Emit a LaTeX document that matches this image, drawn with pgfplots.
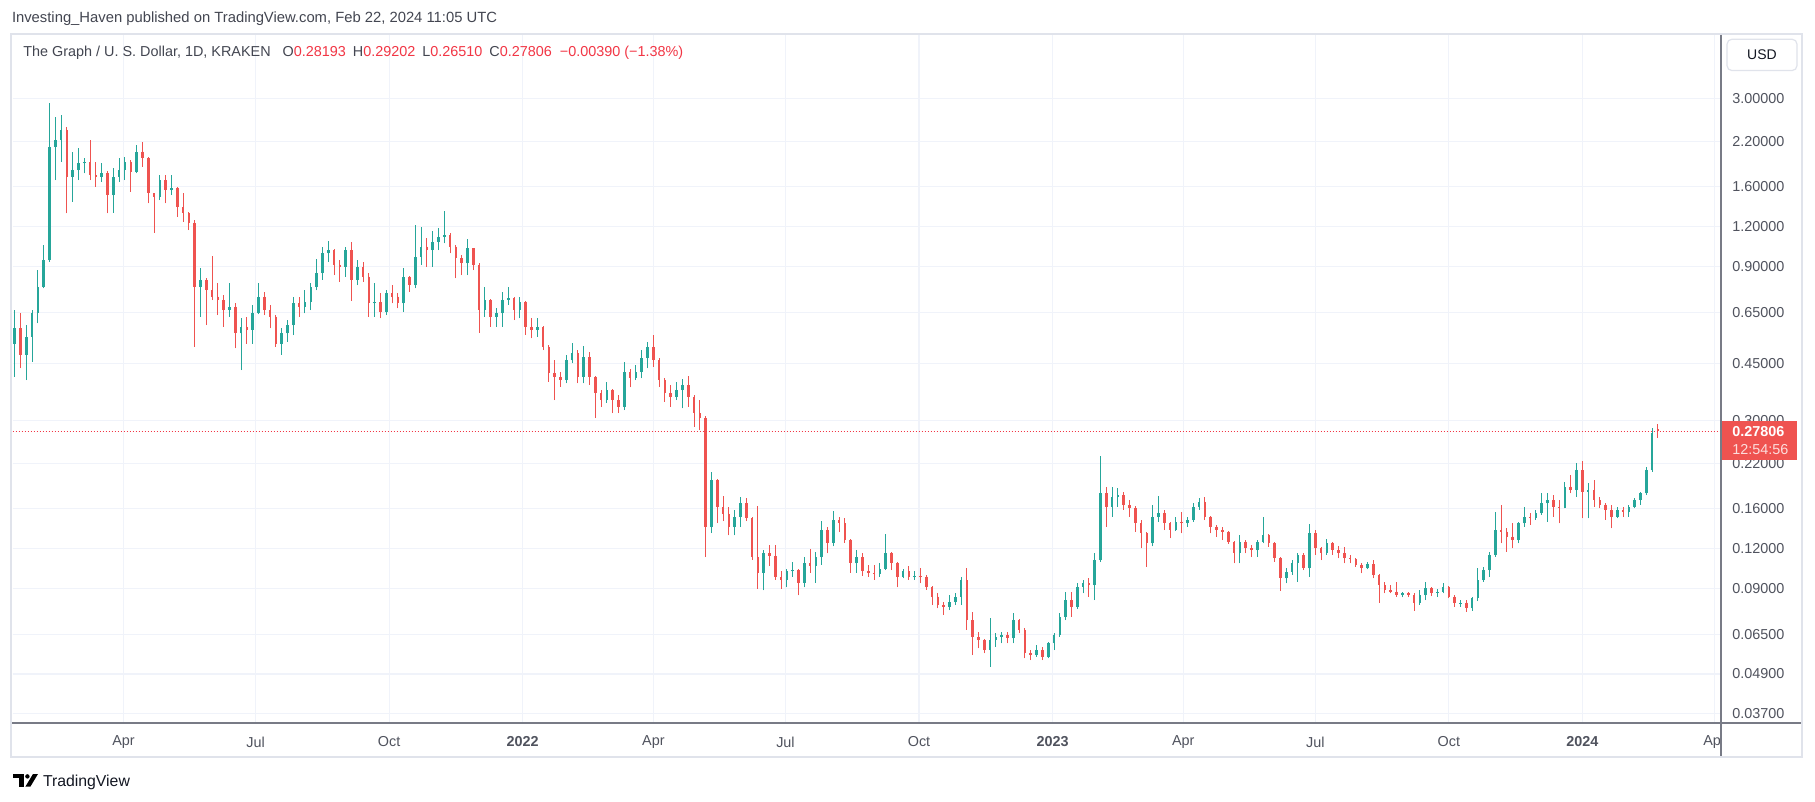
\documentclass[border=0pt]{standalone}
\usepackage{pgfplots}
\pgfplotsset{compat=1.18}
\usepackage{pgfplotstable}
\usepackage{fontspec}
\setmainfont{Liberation Sans}
\definecolor{tvup}{HTML}{26A69A}
\definecolor{tvdn}{HTML}{EF5350}
\definecolor{tvgrid}{HTML}{F0F3FA}
\definecolor{tvaxis}{HTML}{787B86}
\definecolor{tvtext}{HTML}{50535E}
\definecolor{tvdark}{HTML}{131722}
\definecolor{tvhead}{HTML}{434651}
\definecolor{tvframe}{HTML}{E0E3EB}
\definecolor{tvred}{HTML}{F23645}

% GRT/USD, 4-day candles: day (from 2021-01-01), open, high, low, close
\pgfplotstableread{
d o h l c
15 0.520 0.661 0.410 0.579
19 0.579 0.645 0.435 0.479
23 0.479 0.593 0.400 0.546
27 0.546 0.661 0.457 0.645
31 0.645 0.879 0.600 0.780
35 0.780 1.051 0.771 0.944
39 0.944 2.894 0.933 2.123
43 2.123 2.631 1.673 2.227
47 2.227 2.662 1.907 2.392
51 2.392 2.449 1.318 1.713
55 1.713 2.048 1.433 1.797
59 1.797 2.098 1.673 1.885
63 1.885 1.953 1.755 1.907
67 1.907 2.227 1.673 1.734
71 1.734 1.907 1.595 1.713
75 1.713 1.885 1.653 1.755
79 1.755 1.780 1.318 1.503
83 1.503 1.818 1.325 1.713
87 1.713 1.953 1.653 1.797
91 1.797 1.977 1.673 1.907
95 1.907 1.930 1.539 1.776
99 1.776 2.148 1.755 2.048
103 2.048 2.200 1.840 1.953
107 1.953 1.977 1.416 1.521
111 1.521 1.530 1.148 1.485
115 1.485 1.734 1.450 1.673
119 1.673 1.734 1.416 1.557
123 1.557 1.734 1.503 1.576
127 1.576 1.595 1.287 1.383
131 1.383 1.521 1.242 1.318
135 1.318 1.330 1.170 1.227
139 1.227 1.257 0.508 0.780
143 0.780 0.890 0.630 0.818
147 0.818 0.830 0.593 0.762
151 0.762 0.972 0.709 0.727
155 0.727 0.799 0.637 0.709
159 0.709 0.735 0.586 0.661
163 0.661 0.799 0.630 0.677
167 0.677 0.693 0.502 0.559
171 0.559 0.622 0.430 0.586
175 0.586 0.630 0.520 0.573
179 0.573 0.684 0.520 0.645
183 0.645 0.799 0.640 0.727
187 0.727 0.753 0.637 0.661
191 0.661 0.684 0.579 0.630
195 0.630 0.637 0.508 0.520
199 0.520 0.579 0.479 0.559
203 0.559 0.615 0.527 0.593
207 0.593 0.727 0.552 0.693
211 0.693 0.727 0.630 0.677
215 0.677 0.762 0.645 0.700
219 0.700 0.800 0.660 0.780
223 0.780 0.950 0.760 0.860
227 0.860 1.039 0.819 0.991
231 0.991 1.084 0.933 1.014
235 1.014 1.019 0.848 0.911
239 0.911 0.944 0.809 0.900
243 0.900 1.039 0.838 1.014
247 1.014 1.077 0.706 0.819
251 0.819 0.944 0.790 0.900
255 0.900 0.933 0.809 0.838
259 0.838 0.859 0.630 0.693
263 0.693 0.799 0.630 0.700
267 0.700 0.744 0.622 0.653
271 0.653 0.762 0.637 0.744
275 0.744 0.790 0.693 0.727
279 0.727 0.744 0.669 0.693
283 0.693 0.890 0.653 0.838
287 0.838 0.842 0.753 0.790
291 0.790 1.213 0.771 0.967
295 0.967 1.198 0.911 1.039
299 1.039 1.103 0.900 1.014
303 1.014 1.165 0.900 1.077
307 1.077 1.184 1.014 1.116
311 1.116 1.340 1.064 1.129
315 1.129 1.143 0.991 1.039
319 1.039 1.050 0.828 0.956
323 0.956 0.979 0.848 0.922
327 0.922 1.097 0.848 1.027
331 1.027 1.030 0.879 0.911
335 0.911 0.922 0.562 0.661
339 0.661 0.780 0.630 0.710
343 0.710 0.715 0.586 0.630
347 0.630 0.669 0.586 0.645
351 0.645 0.753 0.586 0.710
355 0.710 0.780 0.685 0.718
359 0.718 0.727 0.615 0.661
363 0.661 0.727 0.622 0.701
367 0.701 0.705 0.553 0.586
371 0.586 0.622 0.539 0.573
375 0.573 0.622 0.546 0.586
379 0.586 0.590 0.496 0.508
383 0.508 0.514 0.396 0.420
387 0.420 0.462 0.347 0.410
391 0.410 0.425 0.382 0.401
395 0.401 0.479 0.391 0.462
399 0.462 0.521 0.451 0.485
403 0.485 0.496 0.391 0.410
407 0.410 0.511 0.391 0.473
411 0.473 0.490 0.387 0.410
415 0.410 0.412 0.305 0.364
419 0.364 0.373 0.331 0.347
423 0.347 0.396 0.340 0.373
427 0.373 0.375 0.316 0.347
431 0.347 0.360 0.316 0.331
435 0.331 0.457 0.323 0.425
439 0.425 0.432 0.380 0.405
443 0.405 0.446 0.400 0.425
447 0.425 0.496 0.405 0.468
451 0.468 0.527 0.435 0.508
455 0.508 0.552 0.441 0.462
459 0.462 0.468 0.382 0.401
463 0.401 0.405 0.343 0.364
467 0.364 0.386 0.331 0.356
471 0.356 0.396 0.347 0.373
475 0.373 0.403 0.327 0.386
479 0.386 0.412 0.331 0.356
483 0.356 0.360 0.287 0.316
487 0.316 0.347 0.280 0.305
491 0.305 0.310 0.113 0.140
495 0.140 0.208 0.134 0.196
499 0.196 0.198 0.144 0.162
503 0.162 0.175 0.146 0.154
507 0.154 0.162 0.132 0.140
511 0.140 0.158 0.132 0.151
515 0.151 0.174 0.140 0.166
519 0.166 0.172 0.146 0.149
523 0.149 0.151 0.111 0.113
527 0.113 0.163 0.090 0.101
531 0.101 0.119 0.089 0.116
535 0.116 0.123 0.106 0.114
539 0.114 0.123 0.096 0.098
543 0.098 0.102 0.090 0.096
547 0.096 0.104 0.091 0.102
551 0.102 0.109 0.098 0.103
555 0.103 0.104 0.086 0.094
559 0.094 0.113 0.091 0.108
563 0.108 0.120 0.101 0.106
567 0.106 0.117 0.094 0.113
571 0.113 0.146 0.107 0.137
575 0.137 0.140 0.116 0.125
579 0.125 0.157 0.122 0.147
583 0.147 0.151 0.135 0.144
587 0.144 0.149 0.125 0.128
591 0.128 0.129 0.101 0.108
595 0.108 0.119 0.101 0.113
599 0.113 0.116 0.099 0.102
603 0.102 0.107 0.098 0.101
607 0.101 0.107 0.096 0.100
611 0.100 0.108 0.098 0.104
615 0.104 0.133 0.103 0.116
619 0.116 0.117 0.103 0.108
623 0.108 0.109 0.091 0.098
627 0.098 0.104 0.097 0.102
631 0.102 0.106 0.096 0.098
635 0.098 0.102 0.096 0.0987
639 0.0987 0.1042 0.0936 0.0982
643 0.0982 0.0994 0.0893 0.0914
647 0.0914 0.0920 0.0802 0.0851
651 0.0851 0.0872 0.0783 0.0802
655 0.0802 0.0821 0.0747 0.0792
659 0.0792 0.0861 0.0774 0.0821
663 0.0821 0.0872 0.0802 0.0851
667 0.0851 0.0982 0.0802 0.0959
671 0.0959 0.1042 0.0671 0.0720
675 0.0720 0.0765 0.0561 0.0639
679 0.0639 0.0663 0.0588 0.0624
683 0.0624 0.0630 0.0568 0.0581
687 0.0581 0.0729 0.0516 0.0624
691 0.0624 0.0655 0.0595 0.0639
695 0.0639 0.0663 0.0610 0.0647
699 0.0647 0.0663 0.0610 0.0632
703 0.0632 0.0756 0.0610 0.0720
707 0.0720 0.0725 0.0655 0.0671
711 0.0671 0.0680 0.0548 0.0568
715 0.0568 0.0581 0.0541 0.0561
719 0.0561 0.0602 0.0555 0.0581
723 0.0581 0.0595 0.0541 0.0554
727 0.0554 0.0617 0.0548 0.0610
731 0.0610 0.0655 0.0581 0.0647
735 0.0647 0.0756 0.0640 0.0738
739 0.0738 0.0882 0.0720 0.0831
743 0.0831 0.0882 0.0738 0.0792
747 0.0792 0.0936 0.0780 0.0914
751 0.0914 0.0959 0.0872 0.0936
755 0.0936 0.0970 0.0851 0.0925
759 0.0925 0.1160 0.0831 0.1106
763 0.1106 0.2326 0.1090 0.1781
767 0.1781 0.1868 0.1404 0.1619
771 0.1619 0.1868 0.1508 0.1740
775 0.1740 0.1846 0.1619 0.1760
779 0.1760 0.1803 0.1582 0.1639
783 0.1639 0.1699 0.1508 0.1600
787 0.1600 0.1625 0.1354 0.1438
791 0.1438 0.1472 0.1202 0.1338
795 0.1338 0.1350 0.1055 0.1246
799 0.1246 0.1639 0.1220 0.1508
803 0.1508 0.1748 0.1455 0.1544
807 0.1544 0.1582 0.1371 0.1438
811 0.1438 0.1450 0.1291 0.1371
815 0.1371 0.1508 0.1360 0.1455
819 0.1455 0.1563 0.1338 0.1438
823 0.1438 0.1508 0.1404 0.1472
827 0.1472 0.1659 0.1455 0.1619
831 0.1619 0.1719 0.1582 0.1678
835 0.1678 0.1740 0.1472 0.1508
839 0.1508 0.1520 0.1338 0.1404
843 0.1404 0.1421 0.1307 0.1371
847 0.1371 0.1404 0.1276 0.1355
851 0.1355 0.1365 0.1241 0.1261
855 0.1261 0.1270 0.1080 0.1160
859 0.1160 0.1323 0.1080 0.1261
863 0.1261 0.1276 0.1160 0.1203
867 0.1203 0.1232 0.1133 0.1188
871 0.1188 0.1276 0.1133 0.1261
875 0.1261 0.1508 0.1246 0.1323
879 0.1323 0.1330 0.1217 0.1246
883 0.1246 0.1260 0.1093 0.1120
887 0.1120 0.1133 0.0888 0.0970
891 0.0970 0.1042 0.0936 0.1018
895 0.1018 0.1106 0.0994 0.1080
899 0.1080 0.1160 0.0948 0.1147
903 0.1147 0.1160 0.1030 0.1042
907 0.1042 0.1431 0.0982 0.1339
911 0.1339 0.1371 0.1147 0.1203
915 0.1203 0.1217 0.1106 0.1160
919 0.1160 0.1285 0.1150 0.1246
923 0.1246 0.1255 0.1147 0.1188
927 0.1188 0.1223 0.1120 0.1160
931 0.1160 0.1217 0.1080 0.1120
935 0.1120 0.1147 0.1080 0.1112
939 0.1112 0.1125 0.1055 0.1068
943 0.1068 0.1080 0.1006 0.1042
947 0.1042 0.1093 0.1035 0.1075
951 0.1075 0.1106 0.0970 0.0994
955 0.0994 0.1000 0.0816 0.0925
959 0.0925 0.0948 0.0872 0.0893
963 0.0893 0.0925 0.0872 0.0882
967 0.0882 0.0948 0.0851 0.0861
971 0.0861 0.0882 0.0847 0.0872
975 0.0872 0.0882 0.0847 0.0861
979 0.0861 0.0872 0.0770 0.0811
983 0.0811 0.0893 0.0805 0.0861
987 0.0861 0.0948 0.0831 0.0903
991 0.0903 0.0915 0.0855 0.0876
995 0.0876 0.0897 0.0851 0.0882
999 0.0882 0.0936 0.0872 0.0914
1003 0.0914 0.0920 0.0841 0.0851
1007 0.0851 0.0860 0.0793 0.0811
1011 0.0811 0.0831 0.0793 0.0816
1015 0.0816 0.0831 0.0765 0.0783
1019 0.0783 0.0851 0.0770 0.0841
1023 0.0841 0.1042 0.0825 0.0959
1027 0.0959 0.1055 0.0948 0.1030
1031 0.1030 0.1175 0.0982 0.1147
1035 0.1147 0.1563 0.1133 0.1371
1039 0.1371 0.1640 0.1246 0.1355
1043 0.1355 0.1387 0.1175 0.1307
1047 0.1307 0.1438 0.1203 0.1276
1051 0.1276 0.1455 0.1246 0.1438
1055 0.1438 0.1620 0.1404 0.1508
1059 0.1508 0.1544 0.1421 0.1490
1063 0.1490 0.1582 0.1473 0.1544
1067 0.1544 0.1782 0.1530 0.1659
1071 0.1659 0.1782 0.1455 0.1699
1075 0.1699 0.1761 0.1508 0.1620
1079 0.1620 0.1699 0.1438 0.1610
1083 0.1610 0.1937 0.1600 0.1869
1087 0.1869 0.2031 0.1782 0.1825
1091 0.1825 0.2208 0.1740 0.2105
1095 0.2105 0.2245 0.1490 0.1800
1099 0.1800 0.1914 0.1490 0.1825
1103 0.1825 0.1960 0.1620 0.1699
1107 0.1699 0.1740 0.1601 0.1640
1111 0.1640 0.1659 0.1473 0.1582
1115 0.1582 0.1640 0.1387 0.1508
1119 0.1508 0.1620 0.1490 0.1582
1123 0.1582 0.1620 0.1508 0.1563
1127 0.1563 0.1640 0.1508 0.1620
1131 0.1620 0.1720 0.1601 0.1699
1135 0.1699 0.1803 0.1640 0.1782
1139 0.1782 0.2156 0.1760 0.2105
1143 0.2105 0.2836 0.2080 0.2736
1147 0.28193 0.29202 0.26510 0.27806
}\candles

% split candles into rising / falling wick and body paths
\pgfplotstablegetrowsof{\candles}
\pgfmathtruncatemacro\nrows{\pgfplotsretval-1}
\gdef\upwick{}\gdef\upbody{}\gdef\dnwick{}\gdef\dnbody{}
\pgfplotsforeachungrouped \i in {0,...,\nrows}{%
  \pgfplotstablegetelem{\i}{d}\of\candles \edef\vd{\pgfplotsretval}%
  \pgfplotstablegetelem{\i}{o}\of\candles \edef\vo{\pgfplotsretval}%
  \pgfplotstablegetelem{\i}{h}\of\candles \edef\vh{\pgfplotsretval}%
  \pgfplotstablegetelem{\i}{l}\of\candles \edef\vl{\pgfplotsretval}%
  \pgfplotstablegetelem{\i}{c}\of\candles \edef\vc{\pgfplotsretval}%
  \ifdim\vc pt<\vo pt
    \xdef\dnwick{\dnwick (\vd,\vl) (\vd,\vh) (\vd,nan)}%
    \xdef\dnbody{\dnbody (\vd,\vo) (\vd,\vc) (\vd,nan)}%
  \else
    \xdef\upwick{\upwick (\vd,\vl) (\vd,\vh) (\vd,nan)}%
    \xdef\upbody{\upbody (\vd,\vo) (\vd,\vc) (\vd,nan)}%
  \fi
}

\begin{document}%
\begin{tikzpicture}[x=1pt,y=1pt]
\path[use as bounding box, fill=white] (0,0) rectangle (907.5,-401);
% outer frame
\draw[tvframe, line width=1pt] (5.5,-17.2) rectangle (901,-378.5);
\begin{axis}[
  at={(6.25pt,-361.5pt)}, anchor=south west,
  scale only axis, width=854.25pt, height=344.15pt,
  xmin=13.5, xmax=1190.5,
  ymode=log, ymin=0.03451, ymax=4.727,
  axis line style={draw=none},
  major tick length=0pt,
  yminorticks=false, yminorgrids=false,
  grid=major, major grid style={draw=tvgrid, line width=0.6pt},
  xtick={90,181,273,365,455,546,638,730,820,911,1003,1095,1186},
  xticklabels={Apr,Jul,Oct,\textbf{2022},Apr,Jul,Oct,\textbf{2023},Apr,Jul,Oct,\textbf{2024},Apr},
  xticklabel style={anchor=center, yshift=-9.5pt, inner sep=0pt, text=tvtext, font=\fontsize{7.2}{8}\selectfont},
  ytick={0.037,0.049,0.065,0.09,0.12,0.16,0.22,0.3,0.45,0.65,0.9,1.2,1.6,2.2,3},
  yticklabels={0.03700,0.04900,0.06500,0.09000,0.12000,0.16000,0.22000,0.30000,0.45000,0.65000,0.90000,1.20000,1.60000,2.20000,3.00000},
  yticklabel pos=right,
  yticklabel style={anchor=west, xshift=5.5pt, inner sep=0pt, text=tvtext, font=\fontsize{7.2}{8}\selectfont},
]
\edef\tmp{\noexpand\addplot[tvup, line width=0.5pt, unbounded coords=jump, forget plot] coordinates {\upwick};}\tmp
\edef\tmp{\noexpand\addplot[tvdn, line width=0.5pt, unbounded coords=jump, forget plot] coordinates {\dnwick};}\tmp
\edef\tmp{\noexpand\addplot[tvup, line width=1.3pt, line cap=butt, unbounded coords=jump, forget plot] coordinates {\upbody};}\tmp
\edef\tmp{\noexpand\addplot[tvdn, line width=1.3pt, line cap=butt, unbounded coords=jump, forget plot] coordinates {\dnbody};}\tmp
\addplot[tvred, line width=0.55pt, dash pattern=on 0.6pt off 0.9pt, forget plot] coordinates {(13.5,0.27806) (1190.5,0.27806)};
\end{axis}
% hide overflow of last month label into the price scale
\fill[white] (860.9,-362) rectangle (900.4,-378);
% axis lines
\draw[tvaxis, line width=0.6pt] (6,-361.5) -- (900.5,-361.5);
\draw[tvaxis, line width=0.6pt] (860.5,-17.4) -- (860.5,-378);
% title
\node[anchor=west, inner sep=0pt, text=tvhead, font=\fontsize{7.4}{9}\selectfont] at (5.8,-9.25)
  {Investing\_Haven published on TradingView.com, Feb 22, 2024 11:05 UTC};
% header line
\node[anchor=west, inner sep=0pt, font=\fontsize{7.2}{9}\selectfont] at (11.5,-26.5)
  {\textcolor{tvhead}{The Graph / U. S. Dollar, 1D, KRAKEN}\hspace{6pt}%
   \textcolor{tvhead}{O}\textcolor{tvred}{0.28193}\hspace{3.5pt}%
   \textcolor{tvhead}{H}\textcolor{tvred}{0.29202}\hspace{3.5pt}%
   \textcolor{tvhead}{L}\textcolor{tvred}{0.26510}\hspace{3.5pt}%
   \textcolor{tvhead}{C}\textcolor{tvred}{0.27806}\hspace{4pt}%
   \textcolor{tvred}{−0.00390 (−1.38\%)}};
% USD box
\draw[tvframe, line width=0.6pt, rounded corners=2.5pt] (863.5,-19.6) rectangle (898.5,-35.3);
\node[inner sep=0pt, text=tvdark, font=\fontsize{7}{8}\selectfont] at (881,-27.5) {USD};
% last price label
\fill[tvdn] (861,-210.5) rectangle (898.5,-230);
\node[anchor=west, inner sep=0pt, text=white, font=\bfseries\fontsize{7.2}{8}\selectfont] at (866,-215.8) {0.27806};
\node[anchor=west, inner sep=0pt, text=white!80!tvdn, font=\fontsize{7.2}{8}\selectfont] at (866,-225) {12:54:56};
% TradingView logo
\fill[black] (6.35,-387) rectangle (12,-389.2);
\fill[black] (9.5,-389.2) rectangle (12,-393.3);
\fill[black] (13.7,-388.2) circle (1.1);
\fill[black] (16.5,-387) -- (19,-387) -- (15.2,-393.3) -- (12.7,-393.3) -- cycle;
\node[anchor=base west, inner sep=0pt, text=tvdark, font=\fontsize{7.9}{9}\selectfont] at (21.3,-393.3) {TradingView};
\end{tikzpicture}%
\end{document}
